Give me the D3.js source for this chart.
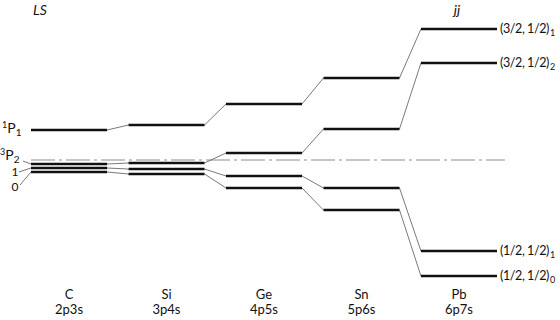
<!DOCTYPE html>
<html>
<head>
<meta charset="utf-8">
<script src="https://cdn.jsdelivr.net/npm/d3@7"></script>
<style>
  body { margin: 0; background: #fff; }
  text { font-family: Lato, "Open Sans", sans-serif; fill: #111; }
</style>
</head>
<body>
<script>
// elements along the LS -> jj sequence
var elements = ["C", "Si", "Ge", "Sn", "Pb"];
var configs = ["2p3s", "3p4s", "4p5s", "5p6s", "6p7s"];

// relative energies of each level (0 = centre of gravity, dash-dot line)
var level1P1 = [3.0, 3.5, 5.6, 8.2, 13.1];
var level3P2 = [-0.4, -0.3, 0.7, 3.1, 9.7];
var level3P1 = [-0.8, -0.9, -1.6, -2.8, -9.1];
var level3P0 = [-1.2, -1.4, -2.8, -5.0, -11.6];

var jjLabels = [["3/2, 1/2", "1"], ["3/2, 1/2", "2"], ["1/2, 1/2", "1"], ["1/2, 1/2", "0"]];

var width = 560, height = 320;

var svg = d3.select("body").append("svg")
    .attr("width", width)
    .attr("height", height);

var x = d3.scaleBand()
    .domain(elements)
    .range([31, 497])
    .paddingInner(0.22);

var y = d3.scaleLinear()
    .domain([-11.6, 13.1])
    .range([276, 29]);

var levels = [level1P1, level3P2, level3P1, level3P0];

// dash-dot centre line
svg.append("line")
    .attr("x1", x("C")).attr("x2", 505)
    .attr("y1", y(0)).attr("y2", y(0))
    .attr("stroke", "#b4b4b4")
    .attr("stroke-width", 1.5)
    .attr("stroke-dasharray", "24,4,3,4");

// thin connectors between neighbouring elements
levels.forEach(function(lv) {
  for (var i = 0; i < elements.length - 1; i++) {
    svg.append("line")
      .attr("x1", x(elements[i]) + x.bandwidth())
      .attr("y1", y(lv[i]))
      .attr("x2", x(elements[i + 1]))
      .attr("y2", y(lv[i + 1]))
      .attr("stroke", "#6a6a6a")
      .attr("stroke-width", 0.9);
  }
});

// level bars
levels.forEach(function(lv) {
  svg.selectAll(null).data(lv).enter().append("line")
    .attr("x1", function(d, i) { return x(elements[i]); })
    .attr("x2", function(d, i) { return x(elements[i]) + x.bandwidth(); })
    .attr("y1", function(d) { return y(d); })
    .attr("y2", function(d) { return y(d); })
    .attr("stroke", "#111")
    .attr("stroke-width", 2.4);
});

// element names and configurations
svg.selectAll(".el").data(elements).enter().append("text")
    .attr("x", function(d) { return x(d) + x.bandwidth() / 2; })
    .attr("y", 299)
    .attr("text-anchor", "middle")
    .attr("font-size", 13)
    .text(function(d) { return d; });

svg.selectAll(".cf").data(configs).enter().append("text")
    .attr("x", function(d, i) { return x(elements[i]) + x.bandwidth() / 2; })
    .attr("y", 314)
    .attr("text-anchor", "middle")
    .attr("font-size", 13)
    .text(function(d) { return d; });

// coupling headers
svg.append("text").attr("x", 40).attr("y", 15).attr("text-anchor", "middle")
    .attr("font-size", 14).attr("font-style", "italic").text("LS");
svg.append("text").attr("x", 457).attr("y", 15).attr("text-anchor", "middle")
    .attr("font-size", 14).attr("font-style", "italic").text("jj");

// jj labels on the right
var last = elements.length - 1;
levels.forEach(function(lv, k) {
  var t = svg.append("text")
    .attr("x", 500)
    .attr("y", y(lv[last]) + 4)
    .attr("font-size", 12.5)
    .attr("letter-spacing", -0.4);
  t.append("tspan").text("(" + jjLabels[k][0] + ")");
  t.append("tspan").attr("font-size", 9).attr("dy", 3).attr("dx", 1).text(jjLabels[k][1]);
});

// LS term labels on the left
var x0 = x("C");
var t1 = svg.append("text").attr("x", 2).attr("y", y(level1P1[0]) + 3).attr("font-size", 14);
t1.append("tspan").attr("font-size", 9).attr("dy", -5).text("1");
t1.append("tspan").attr("dy", 5).text("P");
t1.append("tspan").attr("font-size", 10).attr("dy", 3).text("1");

var t2 = svg.append("text").attr("x", 0).attr("y", 160).attr("font-size", 14);
t2.append("tspan").attr("font-size", 9).attr("dy", -5).text("3");
t2.append("tspan").attr("dy", 5).text("P");
t2.append("tspan").attr("font-size", 10).attr("dy", 3).text("2");

svg.append("text").attr("x", 15).attr("y", 176).attr("font-size", 12)
    .attr("text-anchor", "middle").text("1");
svg.append("text").attr("x", 15).attr("y", 191).attr("font-size", 12)
    .attr("text-anchor", "middle").text("0");

// leader lines from term labels to C levels
var leaders = [[23, 161, level3P2[0]], [19, 172, level3P1[0]], [20, 185, level3P0[0]]];
leaders.forEach(function(l) {
  svg.append("line")
    .attr("x1", l[0]).attr("y1", l[1])
    .attr("x2", x0).attr("y2", y(l[2]))
    .attr("stroke", "#6a6a6a")
    .attr("stroke-width", 0.9);
});
</script>
</body>
</html>
